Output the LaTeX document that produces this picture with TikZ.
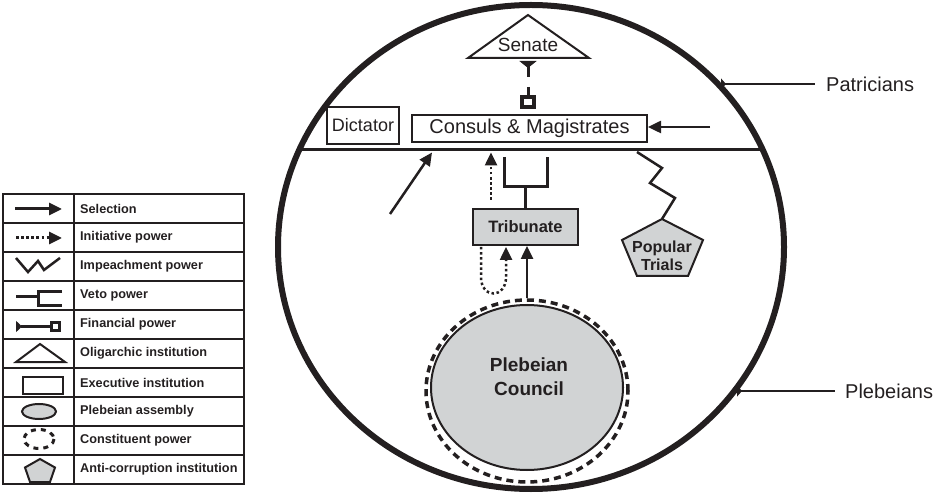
\documentclass[tikz,border=0pt]{standalone}
\usepackage{fontspec}
\setmainfont{Liberation Sans}
\usetikzlibrary{arrows.meta,shapes.geometric,calc}
\definecolor{ink}{RGB}{35,31,32}
\definecolor{boxgray}{RGB}{209,211,212}

\begin{document}
\begin{tikzpicture}[x=1pt,y=-1pt,line join=miter,
  every node/.style={text=ink,inner sep=0pt},
  sel/.style={draw=ink,line width=2.5pt,-{Triangle[length=13pt,width=12pt]}},
  ini/.style={draw=ink,line width=2.5pt,dash pattern=on 2.5pt off 2.6pt,-{Triangle[length=13pt,width=12pt]}},
  imp/.style={draw=ink,line width=2.5pt},
  veto/.style={draw=ink,line width=3pt},
  fin/.style={draw=ink,line width=3pt},
  inst/.style={draw=ink,line width=2pt},
  gfill/.style={fill=boxgray},
  pointer/.style={draw=ink,line width=2pt,{Triangle[reversed,length=5pt,width=11pt]}-},
  big/.style={font=\fontsize{20}{24}\selectfont},
  bold/.style={font=\bfseries\fontsize{16.5}{18}\selectfont},
  legtext/.style={font=\bfseries\fontsize{12.7}{14}\selectfont,anchor=west},
  constituent/.style={draw=ink,line width=3.5pt,dash pattern=on 7pt off 5pt}
]
\useasboundingbox (0,0) rectangle (937,494);

% ---------- legend ----------
\draw[ink,line width=2.5pt] (3,194) rectangle (244,484);
\draw[ink,line width=2pt] (74,194) -- (74,484);
\foreach \y in {223,252,281,310,339,368,397,426,455}
  \draw[ink,line width=2pt] (3,\y) -- (244,\y);

\node[legtext] (l1) at (80,208.5) {Selection};
\node[legtext] (l2) at (80,237.5) {Initiative power};
\node[legtext] (l3) at (80,266.5) {Impeachment power};
\node[legtext] (l4) at (80,295.5) {Veto power};
\node[legtext] (l5) at (80,324.5) {Financial power};
\node[legtext] (l6) at (80,353.5) {Oligarchic institution};
\node[legtext] (l7) at (80,382.5) {Executive institution};
\node[legtext] (l8) at (80,411.5) {Plebeian assembly};
\node[legtext] (l9) at (80,440.5) {Constituent power};
\node[legtext] (l10) at (80,469.5) {Anti-corruption institution};

% legend samples
\coordinate (s1a) at (15,209); \coordinate (s1b) at (62,209);
\draw[sel,line width=3pt] (s1a) -- (s1b);
\coordinate (s2a) at (16,238); \coordinate (s2b) at (62,238);
\draw[ini,line width=3pt] (s2a) -- (s2b);
\draw[imp] (16,258) -- (28,272) -- (38,261) -- (44,270) -- (60,258);
\draw[veto] (16,297) -- (38,297);
\draw[veto] (62,291.5) -- (38,291.5) -- (38,305.5) -- (62,305.5);
\draw[fin,{Triangle[reversed,length=6pt,width=11pt]}-] (16,326.5) -- (51.5,326.5);
\draw[fin] (51.5,322.5) rectangle (59.5,330.5);
\draw[inst] (40,344) -- (65,362) -- (16,362) -- cycle;
\draw[inst] (23,377) rectangle (63,394);
\draw[ink,line width=2pt,gfill] (39,411.5) ellipse [x radius=17, y radius=7.5];
\draw[ink,line width=3pt,dash pattern=on 5pt off 5pt] (39,439) ellipse [x radius=15, y radius=9.5];
\draw[ink,line width=2pt,gfill] (40,459) -- (55,467.5) -- (50,482) -- (30,482) -- (25,467.5) -- cycle;

% ---------- patricians / plebeians ----------
\draw[ink,line width=6pt] (531,247) ellipse [x radius=253, y radius=242];
\coordinate (divL) at (297,150); \coordinate (divR) at (765,150);
\draw[ink,line width=3pt] (divL) -- (divR);

\node[big,anchor=west] (pat) at (826,84) {Patricians};
\node[big,anchor=west] (pleb) at (845,391) {Plebeians};
\coordinate (patEdge) at (721,84);
\coordinate (plebEdge) at (737,391);
\draw[pointer] (patEdge) -- ($(pat.west)+(-11,0)$);
\draw[pointer] (plebEdge) -- ($(pleb.west)+(-10,0)$);

% ---------- senate ----------
\coordinate (senA) at (528,15);
\coordinate (senL) at (468,58);
\coordinate (senR) at (589,58);
\draw[inst,fill=white] (senA) -- (senR) -- (senL) -- cycle;
\node[font=\fontsize{19}{22}\selectfont] (senate) at (528,45) {Senate};

% ---------- consuls and dictator ----------
\node[inst,big,minimum width=235pt,minimum height=27pt] (consuls) at (529.5,128.5) {Consuls \& Magistrates};
\node[inst,font=\fontsize{18}{21}\selectfont,minimum width=72pt,minimum height=37pt] (dictator) at (363,125.5) {Dictator};

% financial power of the senate over the magistrates
\coordinate (finTop) at (528,61);
\coordinate (finMid) at (528,77);
\draw[fin,{Triangle[reversed,length=7pt,width=17pt]}-] (finTop) -- (finMid);
\coordinate (finLow) at (528,87);
\draw[fin] (finLow) -- (528,97);
\draw[fin,line width=3.5pt] (522,97) rectangle (534,107);

% selection arrows toward the magistrates
\coordinate (selR) at (710,127);
\draw[sel] (selR) -- (selR -| consuls.east);
\coordinate (selLs) at (390,214); \coordinate (selLt) at (432,152.5);
\draw[sel] (selLs) -- (selLt);

% ---------- tribunate ----------
\node[inst,gfill,bold,minimum width=105pt,minimum height=36pt] (trib) at (525.5,227) {Tribunate};
\coordinate (iniS) at (491,200); \coordinate (iniT) at (491,152.5);
\draw[ini] (iniS) -- (iniT);
% veto fork
\draw[veto] (trib.north) -- (525.5,187);
\draw[veto] (504,157) -- (504,187) -- (547,187) -- (547,157);

% ---------- popular trials ----------
\coordinate (ptA) at (662,219);
\draw[inst,gfill] (ptA) -- (703,240) -- (688,276) -- (637,276) -- (622,240) -- cycle;
\node[align=center,font=\bfseries\fontsize{16}{18}\selectfont] (trials) at (662,256) {Popular\\Trials};
\coordinate (impS) at (637,152);
\draw[imp] (impS) -- (662,168) -- (650,183) -- (675,198) -- (ptA);

% ---------- plebeian council ----------
\node[ellipse,draw=ink,line width=2pt,gfill,minimum width=192pt,minimum height=165pt] (council) at (527,387.5) {};
\node[ellipse,constituent,minimum width=202pt,minimum height=182pt] (const) at (527,391) {};
\node[align=center,font=\bfseries\fontsize{19}{24}\selectfont] (councilText) at (529,377) {Plebeian\\Council};

\draw[sel] (const.north) -- (const.north |- trib.south);
\coordinate (loopS) at ($(trib.south west)+(9,1)$);
\coordinate (loopT) at ($(trib.south west)+(34,1)$);
\draw[ini] (loopS) -- ++(0,30) .. controls ++(0,22) and ($(loopT)+(0,52)$) .. ($(loopT)+(0,30)$) -- (loopT);
\end{tikzpicture}
\end{document}
